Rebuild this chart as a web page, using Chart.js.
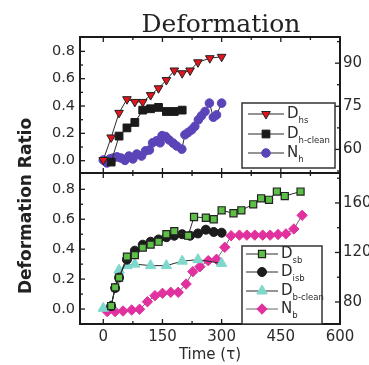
<!DOCTYPE html>
<html>
<head>
<meta charset="utf-8">
<script src="https://cdn.jsdelivr.net/npm/chart.js@4.4.1/dist/chart.umd.min.js"></script>
<style>
  html, body { margin: 0; padding: 0; background: #fff; }
  #wrap { position: relative; width: 369px; height: 365px; }
  #wrap canvas { position: absolute; left: 0; top: 0; }
</style>
</head>
<body>
<div id="wrap">
  <canvas id="topChart" width="369" height="365"></canvas>
  <canvas id="bottomChart" width="369" height="365"></canvas>
</div>
<script>
// ---- top panel: h series ----
var hsTime = [0, 20, 40, 60, 80, 100, 120, 140, 160, 180, 200, 220, 240, 270, 300];
var hsRatio = [0.005, 0.17, 0.35, 0.45, 0.43, 0.43, 0.48, 0.53, 0.59, 0.66, 0.64, 0.66, 0.72, 0.75, 0.76];

var hCleanTime = [20, 40, 60, 80, 100, 120, 140, 160, 180, 200];
var hCleanRatio = [-0.01, 0.18, 0.24, 0.28, 0.37, 0.38, 0.39, 0.36, 0.36, 0.37];

var nhTime = [0, 9, 17, 25, 35, 45, 55, 65, 75, 85, 97, 107, 117, 125, 135, 144, 149, 158, 167, 177, 186, 199, 207, 215, 224, 232, 241, 249, 258, 269, 279, 287, 300];
var nhCount = [56.3, 55.3, 56.7, 57.0, 57.4, 57.0, 56.2, 57.7, 56.7, 58.4, 57.7, 59.5, 59.8, 62.3, 63.0, 62.3, 64.8, 64.5, 63.3, 62.2, 61.2, 60.1, 65.1, 65.9, 66.8, 68.0, 70.3, 71.7, 73.2, 76.1, 71.2, 72.0, 76.1];

// ---- bottom panel: b series ----
var sbTime = [20, 30, 40, 60, 80, 100, 120, 140, 160, 180, 215, 230, 260, 280, 300, 330, 350, 380, 400, 420, 440, 460, 500];
var sbRatio = [0.02, 0.145, 0.21, 0.35, 0.36, 0.41, 0.43, 0.45, 0.50, 0.52, 0.49, 0.615, 0.61, 0.60, 0.66, 0.64, 0.66, 0.70, 0.74, 0.73, 0.785, 0.755, 0.785];

var isbTime = [20, 30, 40, 60, 80, 100, 120, 140, 160, 180, 200, 220, 240, 260, 280, 300];
var isbRatio = [0.02, 0.14, 0.21, 0.33, 0.39, 0.43, 0.45, 0.465, 0.48, 0.49, 0.50, 0.49, 0.505, 0.53, 0.515, 0.51];

var bCleanTime = [0, 20, 40, 60, 80, 120, 160, 200, 240, 300];
var bCleanRatio = [0.005, 0.02, 0.26, 0.29, 0.30, 0.29, 0.29, 0.32, 0.33, 0.305];

var nbTime = [10, 30, 50, 72, 92, 112, 131, 150, 171, 190, 210, 227, 245, 266, 287, 308, 324, 345, 364, 384, 404, 423, 443, 463, 483, 504];
var nbCount = [72.2, 72.2, 72.7, 73.5, 74.1, 80.2, 85.1, 87.0, 87.8, 87.8, 94.5, 104.5, 108.5, 113.4, 114.5, 124.2, 133.5, 134, 134, 134, 134, 134, 134.5, 135, 139, 150];

// tick labels
var timeTicks = [0, 150, 300, 450, 600];
var ratioTicks = [0, 0.2, 0.4, 0.6, 0.8];
var nhTicks = [60, 75, 90];
var nbTicks = [80, 120, 160];

var FONT = "DejaVu Sans";
var TEXT = "#2b2b2b";

function pts(xs, ys) {
  return xs.map(function (x, i) { return { x: x, y: ys[i] }; });
}

function series(label, xs, ys, axis, style) {
  var ds = {
    label: label,
    data: pts(xs, ys),
    yAxisID: axis,
    borderColor: style.line || "#2a2a2a",
    borderWidth: 1,
    tension: 0,
    fill: false,
    pointStyle: style.shape,
    pointRadius: style.r,
    pointRotation: style.rot || 0,
    pointBackgroundColor: style.fill,
    pointBorderColor: style.edge || style.fill,
    pointBorderWidth: style.edgeW || 1
  };
  return ds;
}

function fixedWidth(w) {
  return function (scale) { scale.width = w; };
}
function setTicks(values) {
  return function (scale) {
    scale.ticks = values.map(function (v) { return { value: v }; });
  };
}

// inward ticks, frame, legend and free text
var panelDecor = {
  id: "panelDecor",
  afterDraw: function (chart, args, opts) {
    var ctx = chart.ctx, a = chart.chartArea;
    ctx.save();
    ctx.strokeStyle = "#1a1a1a";
    ctx.lineWidth = 1.3;
    opts.ticks.forEach(function (t) {
      var s = chart.scales[t.scale];
      t.values.forEach(function (v) {
        var p = s.getPixelForValue(v);
        ctx.beginPath();
        if (t.edge === "left") { ctx.moveTo(a.left, p); ctx.lineTo(a.left + t.len, p); }
        if (t.edge === "right") { ctx.moveTo(a.right, p); ctx.lineTo(a.right - t.len, p); }
        if (t.edge === "top") { ctx.moveTo(p, a.top); ctx.lineTo(p, a.top + t.len); }
        if (t.edge === "bottom") { ctx.moveTo(p, a.bottom); ctx.lineTo(p, a.bottom - t.len); }
        ctx.stroke();
      });
    });
    ctx.lineWidth = 2;
    ctx.strokeRect(a.left, a.top, a.right - a.left, a.bottom - a.top);

    // legend box
    var lg = opts.legend;
    ctx.fillStyle = "#fff";
    ctx.fillRect(lg.box[0], lg.box[1], lg.box[2] - lg.box[0], lg.box[3] - lg.box[1]);
    ctx.strokeStyle = "#333";
    ctx.lineWidth = 1.5;
    ctx.strokeRect(lg.box[0], lg.box[1], lg.box[2] - lg.box[0], lg.box[3] - lg.box[1]);
    lg.rows.forEach(function (row) {
      var ds = chart.data.datasets[row.ds];
      ctx.strokeStyle = ds.borderColor;
      ctx.lineWidth = 1;
      ctx.beginPath();
      ctx.moveTo(lg.line[0], row.y);
      ctx.lineTo(lg.line[1], row.y);
      ctx.stroke();
      ctx.fillStyle = ds.pointBackgroundColor;
      ctx.strokeStyle = ds.pointBorderColor;
      ctx.lineWidth = ds.pointBorderWidth;
      Chart.helpers.drawPoint(ctx, {
        pointStyle: ds.pointStyle, rotation: ds.pointRotation,
        radius: ds.pointRadius, borderWidth: ds.pointBorderWidth
      }, lg.mark, row.y);
      ctx.fillStyle = TEXT;
      ctx.textAlign = "left";
      ctx.textBaseline = "middle";
      ctx.font = "15px '" + FONT + "'";
      ctx.fillText(row.main, lg.text, row.y);
      var w = ctx.measureText(row.main).width;
      ctx.font = "8.5px '" + FONT + "'";
      ctx.fillText(row.sub, lg.text + w, row.y + 7);
    });

    if (opts.titles) {
      ctx.fillStyle = "#222";
      ctx.textAlign = "center";
      ctx.textBaseline = "alphabetic";
      ctx.font = "25px 'DejaVu Serif'";
      ctx.fillText("Deformation", 221, 32);
      ctx.save();
      ctx.translate(27, 206);
      ctx.rotate(-Math.PI / 2);
      ctx.textBaseline = "middle";
      ctx.font = "bold 17px '" + FONT + "'";
      ctx.fillText("Deformation Ratio", 0, 0);
      ctx.restore();
    }
    ctx.restore();
  }
};

function xTicks(edge) {
  return [
    { scale: "x", edge: edge, values: [0, 150, 300, 450], len: 5 },
    { scale: "x", edge: edge, values: [75, 225, 375, 525], len: 3 }
  ];
}

var tickFont = { family: FONT, size: 14.5 };

// ---- top chart ----
new Chart(document.getElementById("topChart"), {
  type: "line",
  data: {
    datasets: [
      series("D_hs", hsTime, hsRatio, "y", { shape: "triangle", rot: 180, r: 5, fill: "#e4141c", edge: "#222" }),
      series("D_h-clean", hCleanTime, hCleanRatio, "y", { shape: "rect", r: 5.5, fill: "#1a1a1a" }),
      series("N_h", nhTime, nhCount, "yR", { shape: "circle", r: 4.3, fill: "#5b43b8" })
    ]
  },
  options: {
    responsive: false,
    animation: false,
    devicePixelRatio: 1,
    layout: { padding: { top: 37, bottom: 192, left: 0, right: 0 } },
    plugins: {
      legend: { display: false },
      tooltip: { enabled: false },
      panelDecor: {
        ticks: [
          { scale: "y", edge: "left", values: ratioTicks, len: 5 },
          { scale: "y", edge: "left", values: [0.1, 0.3, 0.5, 0.7], len: 3 },
          { scale: "yR", edge: "right", values: nhTicks, len: 5 },
          { scale: "yR", edge: "right", values: [52.5, 67.5, 82.5, 97.5], len: 3 }
        ].concat(xTicks("top"), xTicks("bottom")),
        legend: {
          box: [242, 103, 335, 168],
          line: [248, 284], mark: 266, text: 287,
          rows: [
            { ds: 0, y: 114, main: "D", sub: "hs" },
            { ds: 1, y: 134, main: "D", sub: "h-clean" },
            { ds: 2, y: 153, main: "N", sub: "h" }
          ]
        },
        titles: false
      }
    },
    scales: {
      x: { type: "linear", min: -59, max: 600, display: false },
      y: {
        position: "left", min: -0.09, max: 0.905,
        afterFit: fixedWidth(80), afterBuildTicks: setTicks(ratioTicks),
        grid: { display: false, drawTicks: false }, border: { display: false },
        ticks: { font: tickFont, color: TEXT, padding: 5, callback: function (v) { return v.toFixed(1); } }
      },
      yR: {
        position: "right", min: 51.8, max: 99.1,
        afterFit: fixedWidth(29), afterBuildTicks: setTicks(nhTicks),
        grid: { display: false, drawTicks: false }, border: { display: false },
        ticks: { font: { family: FONT, size: 15 }, color: TEXT, padding: 3 }
      }
    }
  },
  plugins: [panelDecor]
});

// ---- bottom chart ----
new Chart(document.getElementById("bottomChart"), {
  type: "line",
  data: {
    datasets: [
      series("D_sb", sbTime, sbRatio, "y", { shape: "rect", r: 5, fill: "#5dbf45", edge: "#222", edgeW: 1.2 }),
      series("D_isb", isbTime, isbRatio, "y", { shape: "circle", r: 4.5, fill: "#1c1c1c" }),
      series("D_b-clean", bCleanTime, bCleanRatio, "y", { shape: "triangle", r: 6, fill: "#7ed8cc" }),
      series("N_b", nbTime, nbCount, "yR", { shape: "rectRot", r: 5.2, fill: "#e1319e", line: "#666" })
    ]
  },
  options: {
    responsive: false,
    animation: false,
    devicePixelRatio: 1,
    layout: { padding: { top: 173, bottom: 0, left: 0, right: 0 } },
    plugins: {
      legend: { display: false },
      tooltip: { enabled: false },
      panelDecor: {
        ticks: [
          { scale: "y", edge: "left", values: ratioTicks, len: 5 },
          { scale: "y", edge: "left", values: [0.1, 0.3, 0.5, 0.7], len: 3 },
          { scale: "yR", edge: "right", values: nbTicks, len: 5 },
          { scale: "yR", edge: "right", values: [100, 140, 180], len: 3 }
        ].concat(xTicks("top"), xTicks("bottom")),
        legend: {
          box: [242, 246, 322, 324],
          line: [246, 278], mark: 262, text: 281,
          rows: [
            { ds: 0, y: 254, main: "D", sub: "sb" },
            { ds: 1, y: 272, main: "D", sub: "isb" },
            { ds: 2, y: 291, main: "D", sub: "b-clean" },
            { ds: 3, y: 309, main: "N", sub: "b" }
          ]
        },
        titles: true
      }
    },
    scales: {
      x: {
        type: "linear", min: -59, max: 600, position: "bottom",
        afterFit: function (scale) { scale.height = 41; },
        afterBuildTicks: setTicks(timeTicks),
        grid: { display: false, drawTicks: false }, border: { display: false },
        ticks: { font: { family: FONT, size: 15 }, color: TEXT, padding: 4, maxRotation: 0 },
        title: { display: true, text: "Time (\u03c4)", font: { family: FONT, size: 15 }, color: TEXT, padding: { top: 0, bottom: 1 } }
      },
      y: {
        position: "left", min: -0.1, max: 0.909,
        afterFit: fixedWidth(80), afterBuildTicks: setTicks(ratioTicks),
        grid: { display: false, drawTicks: false }, border: { display: false },
        ticks: { font: tickFont, color: TEXT, padding: 5, callback: function (v) { return v.toFixed(1); } }
      },
      yR: {
        position: "right", min: 62.2, max: 184.2,
        afterFit: fixedWidth(29), afterBuildTicks: setTicks(nbTicks),
        grid: { display: false, drawTicks: false }, border: { display: false },
        ticks: { font: { family: FONT, size: 15 }, color: TEXT, padding: 3 }
      }
    }
  },
  plugins: [panelDecor]
});
</script>
</body>
</html>
